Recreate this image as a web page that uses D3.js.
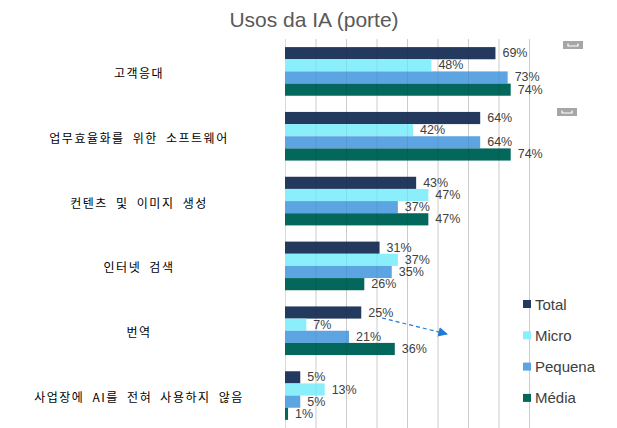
<!DOCTYPE html>
<html><head><meta charset="utf-8">
<script src="https://cdn.jsdelivr.net/npm/d3@7"></script>
<style>html,body{margin:0;padding:0;background:#fff;}svg{display:block;}</style>
</head><body>
<svg id="c" width="617" height="428"></svg>
<script>
const categories = ["고객응대","업무효율화를 위한 소프트웨어","컨텐츠 및 이미지 생성","인터넷 검색","번역","사업장에 AI를 전혀 사용하지 않음"];
const seriesNames = ["Total","Micro","Pequena","Média"];
const total   = [69,64,43,31,25,5];
const micro   = [48,42,47,37,7,13];
const pequena = [73,64,37,35,21,5];
const media   = [74,74,47,26,36,1];
const ticks = [0,10,20,30,40,50,60,70,80];
const colors = ["#23395d","#8beefb","#5ca4e2","#03675b"];
const values = [total, micro, pequena, media];

const svg = d3.select("#c");
const x = d3.scaleLinear().domain([0,80]).range([285,529]);
const y = d3.scaleBand().domain(categories).range([39,428]).paddingInner(0.25).paddingOuter(0.125);
const ys = d3.scaleBand().domain(seriesNames).range([0,y.bandwidth()]);

// title
svg.append("text").attr("x",314).attr("y",27).attr("text-anchor","middle")
  .attr("font-family","Liberation Sans, Arial, sans-serif").attr("font-size",21)
  .attr("fill","#595959").text("Usos da IA (porte)");

// grid (under)
svg.append("g").selectAll("line").data(ticks).join("line")
  .attr("x1",d=>x(d)+0.5).attr("x2",d=>x(d)+0.5).attr("y1",39).attr("y2",428)
  .attr("stroke","#d9d9d9").attr("stroke-width",1);

// bars
const g = svg.append("g");
categories.forEach((c,i)=>{
  seriesNames.forEach((s,j)=>{
    const v = values[j][i];
    g.append("rect").attr("x",x(0)).attr("y",y(c)+ys(s))
      .attr("width",x(v)-x(0)).attr("height",ys.bandwidth()).attr("fill",colors[j]);
    g.append("text").attr("x",x(v)+7).attr("y",y(c)+ys(s)+ys.bandwidth()/2)
      .attr("dominant-baseline","central")
      .attr("font-family","Liberation Sans, Arial, sans-serif").attr("font-size",12.5)
      .attr("fill","#404040").text(v+"%");
  });
});

// grid overlay (faint, over bars)
svg.append("g").selectAll("line").data(ticks.slice(1)).join("line")
  .attr("x1",d=>x(d)+0.5).attr("x2",d=>x(d)+0.5).attr("y1",39).attr("y2",428)
  .attr("stroke","#000").attr("stroke-opacity",0.06).attr("stroke-width",1);

// category labels
svg.append("g").selectAll("text").data(categories).join("text")
  .attr("x",139).attr("y",d=>y(d)+y.bandwidth()/2+1)
  .attr("text-anchor","middle").attr("dominant-baseline","central")
  .attr("font-family","Noto Sans CJK KR, sans-serif").attr("font-size",12)
  .attr("letter-spacing","1.5px").attr("word-spacing","4px").attr("fill","#000").text(d=>d);

// legend
const lg = svg.append("g");
seriesNames.forEach((s,j)=>{
  const cy = 304 + j*31.3;
  lg.append("rect").attr("x",523).attr("y",cy-4).attr("width",8).attr("height",8).attr("fill",colors[j]);
  lg.append("text").attr("x",535).attr("y",cy).attr("dominant-baseline","central")
    .attr("font-family","Liberation Sans, Arial, sans-serif").attr("font-size",15)
    .attr("fill","#404040").text(s);
});

// small gray handles
[[563,41],[557,108]].forEach(([hx,hy])=>{
  svg.append("rect").attr("x",hx).attr("y",hy).attr("width",20).attr("height",8).attr("fill","#a6a6a6");
  svg.append("path").attr("d",`M${hx+5},${hy+2.5}V${hy+5}H${hx+15}V${hy+2.5}`)
    .attr("fill","none").attr("stroke","#fff").attr("stroke-width",1.2);
});

// dashed arrow
const defs = svg.append("defs");
defs.append("marker").attr("id","ah").attr("viewBox","0 0 10 10").attr("refX",9).attr("refY",5)
  .attr("markerWidth",8).attr("markerHeight",8).attr("orient","auto")
  .append("path").attr("d","M0,0L10,5L0,10Z").attr("fill","#1f7bd6");
svg.append("line").attr("x1",382).attr("y1",318).attr("x2",447).attr("y2",334)
  .attr("stroke","#1f7bd6").attr("stroke-width",1.2).attr("stroke-dasharray","4,3")
  .attr("marker-end","url(#ah)");
</script>
</body></html>
